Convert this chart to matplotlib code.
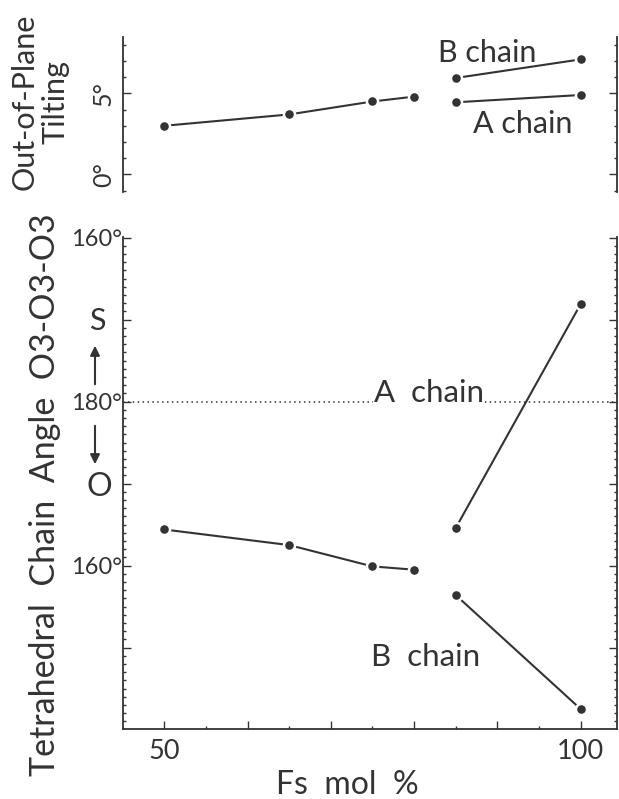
import matplotlib
matplotlib.use("Agg")
import matplotlib.pyplot as plt
from matplotlib.ticker import FixedLocator, MultipleLocator

plt.rcParams['font.family'] = ['Lato', 'DejaVu Sans']

ink = "#333333"

# Fs content (mol %)
fs_solid = [50, 65, 75, 80]
fs_end = [85, 100]

# out-of-plane tilting (degrees)
tilt_solid = [3.0, 3.7, 4.5, 4.8]
tilt_b = [5.95, 7.1]
tilt_a = [4.45, 4.9]

# O3-O3-O3 angle (degrees) and rotation sense (+1 = S, -1 = O)
ang_solid = [164.4, 162.5, 159.9, 159.5]
sense_solid = [-1, -1, -1, -1]
ang_a = [164.6, 168.1]
sense_a = [-1, 1]
ang_b = [156.4, 142.5]
sense_b = [-1, -1]


def rot(angles, senses):
    # plotted as signed departure from the straight (180°) chain
    return [s * (180 - a) for a, s in zip(angles, senses)]


W, H = 619, 799


def fx(px):
    return px / W


def fy(py):
    return 1 - py / H


fig = plt.figure(figsize=(W / 100, H / 100), dpi=100)

line_kw = dict(color=ink, lw=1.5, marker="o", ms=8, mfc=ink,
               mec="white", mew=1.8)

# ---- top panel: out-of-plane tilting
ax1 = fig.add_axes([fx(123.3), fy(192.5), fx(616.7) - fx(123.3), fy(36.7) - fy(192.5)])
ax1.plot(fs_solid, tilt_solid, **line_kw)
ax1.plot(fs_end, tilt_b, **line_kw)
ax1.plot(fs_end, tilt_a, **line_kw)
ax1.set_xlim(45.08, 104.32)
ax1.set_ylim(-1.12, 8.5)
for s in ["top", "bottom"]:
    ax1.spines[s].set_visible(False)
for s in ["left", "right"]:
    ax1.spines[s].set_color(ink)
    ax1.spines[s].set_linewidth(1.3)
ax1.set_xticks([])
ax1.yaxis.set_major_locator(FixedLocator([0, 5]))
ax1.yaxis.set_minor_locator(MultipleLocator(1))
ax1.set_yticklabels(["0°", "5°"], rotation=90, va="center", fontsize=18, color=ink)
ax1.tick_params(axis="y", which="both", direction="in", right=True, color=ink, width=1)
ax1.tick_params(axis="y", which="major", length=6, pad=6)
ax1.tick_params(axis="y", which="minor", length=2.5)
ax1.text(82.9, 6.95, "B chain", fontsize=22, color=ink)
ax1.text(87.1, 2.53, "A chain", fontsize=22, color=ink)

# ---- bottom panel: tetrahedral chain angle
ax2 = fig.add_axes([fx(123.3), fy(728.8), fx(616.7) - fx(123.3), fy(236.7) - fy(728.8)])
ax2.axhline(0, color=ink, lw=1.1, ls=(0, (1, 2.2)), zorder=1)
ax2.plot(fs_solid, rot(ang_solid, sense_solid), **line_kw)
ax2.plot(fs_end, rot(ang_a, sense_a), **line_kw)
ax2.plot(fs_end, rot(ang_b, sense_b), **line_kw)
ax2.set_xlim(45.08, 104.32)
ax2.set_ylim(-39.9, 20.1)
ax2.spines["top"].set_visible(False)
for s in ["left", "right", "bottom"]:
    ax2.spines[s].set_color(ink)
    ax2.spines[s].set_linewidth(1.3)
ax2.yaxis.set_major_locator(FixedLocator([-30, -20, -10, 0, 10, 20]))
ax2.yaxis.set_minor_locator(MultipleLocator(1))
ax2.set_yticklabels(["", "160°", "", "180°", "", "160°"], fontsize=17, color=ink)
ax2.xaxis.set_major_locator(FixedLocator([50, 60, 70, 80, 90, 100]))
ax2.xaxis.set_minor_locator(MultipleLocator(5))
ax2.set_xticklabels(["50", "", "", "", "", "100"], fontsize=19.5, color=ink)
ax2.tick_params(which="both", direction="in", right=True, color=ink, width=1)
ax2.tick_params(which="major", length=6)
ax2.tick_params(which="minor", length=2.5)
ax2.tick_params(axis="y", pad=1)
ax2.tick_params(axis="x", pad=7)
ax2.text(75.2, 0, "A  chain", fontsize=22.5, color=ink, va="baseline",
         bbox=dict(fc="white", ec="none", pad=1), zorder=2)
ax2.text(74.8, -32.3, "B  chain", fontsize=22.5, color=ink, va="baseline")

# ---- labels
fig.text(fx(40), fy(102), "Out-of-Plane\nTilting", rotation=90, ha="center",
         va="center", fontsize=22, color=ink, linespacing=1.1)
fig.text(fx(45), fy(495), "Tetrahedral  Chain  Angle  O3-O3-O3", rotation=90,
         ha="center", va="center", fontsize=24.5, color=ink)
fig.text(fx(347), fy(785), "Fs  mol  %", ha="center", va="center", fontsize=23, color=ink)
fig.text(fx(97), fy(321), "S", ha="center", va="center", fontsize=22, color=ink)
fig.text(fx(99), fy(487), "O", ha="center", va="center", fontsize=23, color=ink)
ax2.annotate("", xy=(fx(95), fy(343)), xytext=(fx(95), fy(387)), xycoords="figure fraction",
             arrowprops=dict(arrowstyle="-|>", color=ink, lw=1.5, mutation_scale=14))
ax2.annotate("", xy=(fx(95), fy(467)), xytext=(fx(95), fy(423)), xycoords="figure fraction",
             arrowprops=dict(arrowstyle="-|>", color=ink, lw=1.5, mutation_scale=14))

fig.savefig("out.png", dpi=100, facecolor="white")
